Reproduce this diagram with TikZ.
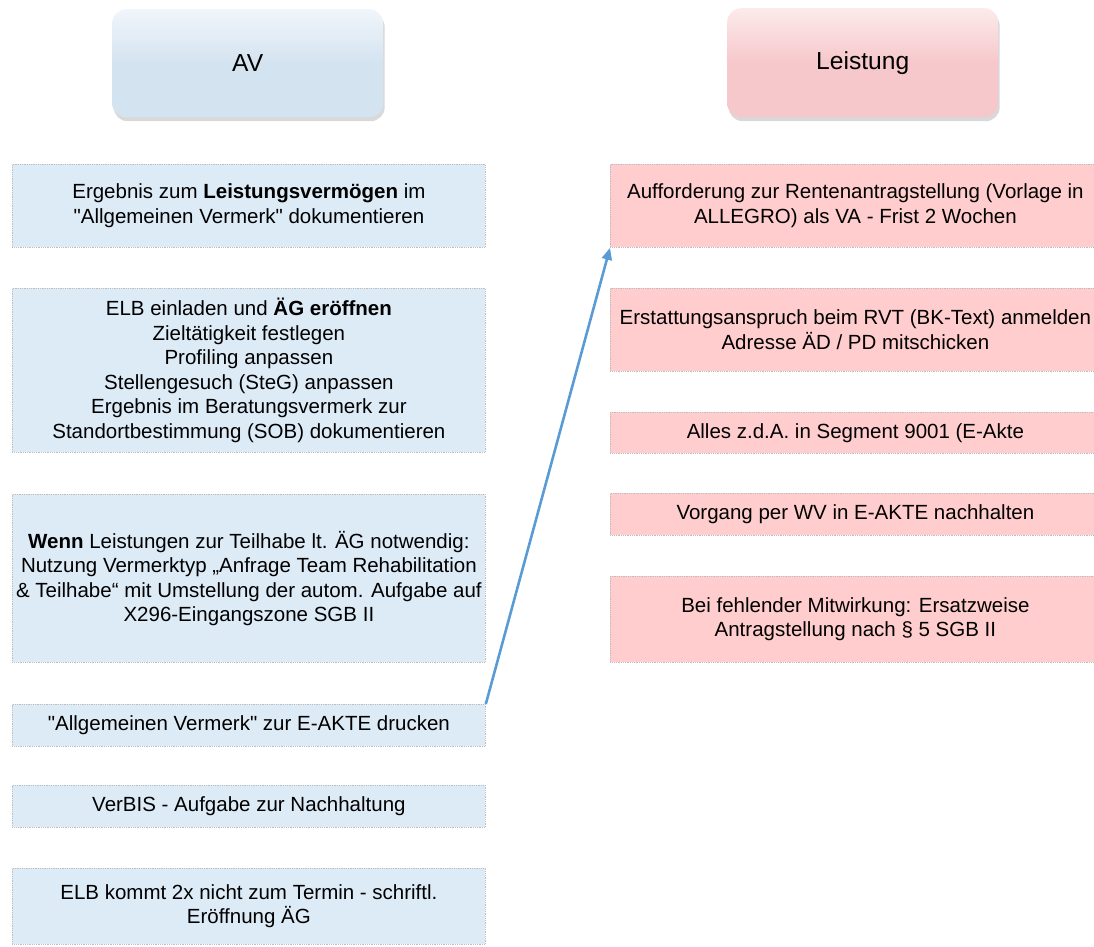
\documentclass[tikz,border=0pt]{standalone}
\usepackage{fontspec}
\setmainfont{Liberation Sans}[Ligatures=TeXOff]
\usetikzlibrary{arrows.meta,shadows}
\definecolor{avbase}{RGB}{212,227,240}
\definecolor{avlight}{RGB}{240,246,251}
\definecolor{lsbase}{RGB}{246,200,203}
\definecolor{lslight}{RGB}{252,234,235}
\definecolor{avbox}{RGB}{221,235,247}
\definecolor{lsbox}{RGB}{255,205,205}
\definecolor{boxedge}{RGB}{190,190,190}
\definecolor{arrowblue}{RGB}{91,155,213}
\tikzset{
  header/.style={rounded corners=14pt, inner sep=0pt, anchor=north west,
    font=\fontsize{24.6}{28}\selectfont, text=black,
    drop shadow={opacity=0.3, shadow xshift=1.5pt, shadow yshift=-4pt}},
  avhead/.style={header, top color=avlight, bottom color=avbase, middle color=avbase},
  lshead/.style={header, top color=lslight, bottom color=lsbase, middle color=lsbase},
  stepbox/.style={draw=boxedge, densely dotted, line width=0.8pt, inner sep=0pt,
    anchor=north west, align=center, text=black,
    font=\fontsize{20.5}{24.5}\selectfont},
  avbx/.style={stepbox, fill=avbox, minimum width=473pt},
  lsbx/.style={stepbox, fill=lsbox, minimum width=490pt},
  link/.style={draw=arrowblue, line width=2.6pt, -{Triangle[length=12pt,width=10pt]}}
}
\begin{document}
\begin{tikzpicture}[x=1pt,y=-1pt]
\useasboundingbox (0,0) rectangle (1094,946);
% headers
\node[avhead, minimum width=271pt, minimum height=108pt] (av) at (112,9) {AV};
\node[lshead, minimum width=271pt, minimum height=109pt] (ls) at (727,8) {Leistung};
% left column
\node[avbx, minimum height=83pt] (l1) at (12,164)
  {Ergebnis zum \textbf{Leistungsvermögen} im\\ "Allgemeinen Vermerk" dokumentieren};
\node[avbx, minimum height=164pt] (l2) at (12,288)
  {ELB einladen und \textbf{ÄG eröffnen}\\ Zieltätigkeit festlegen\\ Profiling anpassen\\
   Stellengesuch (SteG) anpassen\\ Ergebnis im Beratungsvermerk zur\\
   Standortbestimmung (SOB) dokumentieren};
\node[avbx, minimum height=168pt] (l3) at (12,494)
  {\textbf{Wenn} Leistungen zur Teilhabe lt. ÄG notwendig:\\
   Nutzung Vermerktyp „Anfrage Team Rehabilitation\\
   \& Teilhabe“ mit Umstellung der autom. Aufgabe auf\\
   X296-Eingangszone SGB II};
\node[avbx, minimum height=42pt] (l4) at (12,704)
  {"Allgemeinen Vermerk" zur E-AKTE drucken};
\node[avbx, minimum height=42pt] (l5) at (12,785)
  {VerBIS - Aufgabe zur Nachhaltung};
\node[avbx, minimum height=76pt] (l6) at (12,868)
  {ELB kommt 2x nicht zum Termin - schriftl.\\ Eröffnung ÄG};
% right column
\node[lsbx, minimum height=83pt] (r1) at (610,164)
  {Aufforderung zur Rentenantragstellung (Vorlage in\\ ALLEGRO) als VA - Frist 2 Wochen};
\node[lsbx, minimum height=83pt] (r2) at (610,288)
  {Erstattungsanspruch beim RVT (BK-Text) anmelden\\ Adresse ÄD / PD mitschicken};
\node[lsbx, minimum height=41pt] (r3) at (610,412)
  {Alles z.d.A. in Segment 9001 (E-Akte};
\node[lsbx, minimum height=42pt] (r4) at (610,493)
  {Vorgang per WV in E-AKTE nachhalten};
\node[lsbx, minimum height=86pt] (r5) at (610,576)
  {Bei fehlender Mitwirkung: Ersatzweise\\ Antragstellung nach § 5 SGB II};
% connector
\draw[link] (l4.north east) -- (r1.south west);
\end{tikzpicture}
\end{document}
